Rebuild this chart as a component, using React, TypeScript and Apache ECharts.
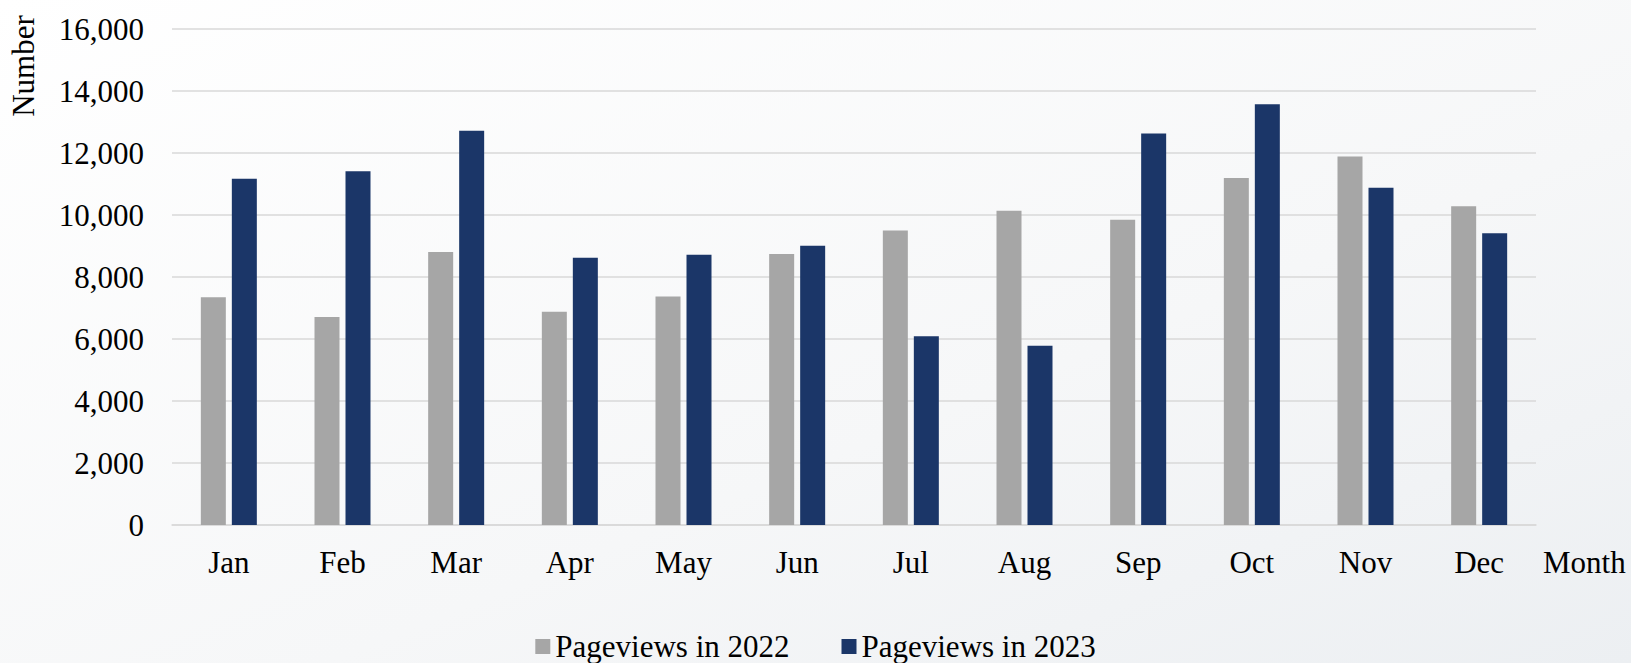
import React, { useEffect, useRef } from "react";
import * as echarts from "echarts";

const months = ["Jan", "Feb", "Mar", "Apr", "May", "Jun", "Jul", "Aug", "Sep", "Oct", "Nov", "Dec"];
const pageviews2022 = [7350, 6710, 8810, 6880, 7370, 8740, 9500, 10140, 9850, 11190, 11890, 10280];
const pageviews2023 = [11170, 11410, 12720, 8620, 8720, 9010, 6090, 5780, 12630, 13570, 10880, 9410];
const seriesNames = ["Pageviews in 2022", "Pageviews in 2023"];
const yTicks = { min: 0, max: 16000, interval: 2000 };
const axisNames = { x: "Month", y: "Number" };

const FONT = '"Liberation Serif", "Times New Roman", serif';

export default function App() {
  const ref = useRef<HTMLDivElement>(null);
  useEffect(() => {
    document.body.style.margin = "0";
    if (!ref.current) return;
    const chart = echarts.init(ref.current, undefined, { renderer: "svg" });
    chart.setOption({
      animation: false,
      backgroundColor: {
        type: "linear",
        x: 0,
        y: 0,
        x2: 1,
        y2: 1,
        colorStops: [
          { offset: 0, color: "#ffffff" },
          { offset: 0.6, color: "#f6f7f8" },
          { offset: 1, color: "#eceff2" },
        ],
      },
      textStyle: { fontFamily: FONT },
      grid: { left: 172, right: 95, top: 29, bottom: 138 },
      legend: {
        data: seriesNames,
        top: 631,
        left: "center",
        padding: 0,
        icon: "rect",
        itemWidth: 15,
        itemHeight: 15,
        itemGap: 52,
        textStyle: { fontFamily: FONT, fontSize: 31, lineHeight: 31, color: "#000" },
      },
      xAxis: {
        type: "category",
        data: months,
        axisLine: { lineStyle: { color: "#d9d9d9", width: 1.5 } },
        axisTick: { show: false },
        axisLabel: { fontFamily: FONT, fontSize: 31, color: "#000", margin: 22 },
      },
      yAxis: {
        type: "value",
        min: yTicks.min,
        max: yTicks.max,
        interval: yTicks.interval,
        axisLine: { show: false },
        axisTick: { show: false },
        splitLine: { lineStyle: { color: "#d9d9d9", width: 1.5 } },
        axisLabel: {
          fontFamily: FONT,
          fontSize: 31,
          color: "#000",
          margin: 28,
          formatter: (v: number) => v.toLocaleString("en-US"),
        },
      },
      graphic: [
        {
          type: "text",
          x: 23,
          y: 66,
          rotation: Math.PI / 2,
          style: {
            text: axisNames.y,
            font: `31px ${FONT}`,
            fill: "#000",
            align: "center",
            verticalAlign: "middle",
          },
        },
        {
          type: "text",
          x: 1543,
          y: 562,
          style: {
            text: axisNames.x,
            font: `31px ${FONT}`,
            fill: "#000",
            align: "left",
            verticalAlign: "middle",
          },
        },
      ],
      series: [
        {
          name: seriesNames[0],
          type: "bar",
          data: pageviews2022,
          barWidth: 25,
          barGap: "24%",
          itemStyle: { color: "#a6a6a6" },
        },
        {
          name: seriesNames[1],
          type: "bar",
          data: pageviews2023,
          barWidth: 25,
          barGap: "24%",
          itemStyle: { color: "#1b3668" },
        },
      ],
    });
    return () => chart.dispose();
  }, []);
  return <div ref={ref} style={{ width: 1631, height: 663 }} />;
}
